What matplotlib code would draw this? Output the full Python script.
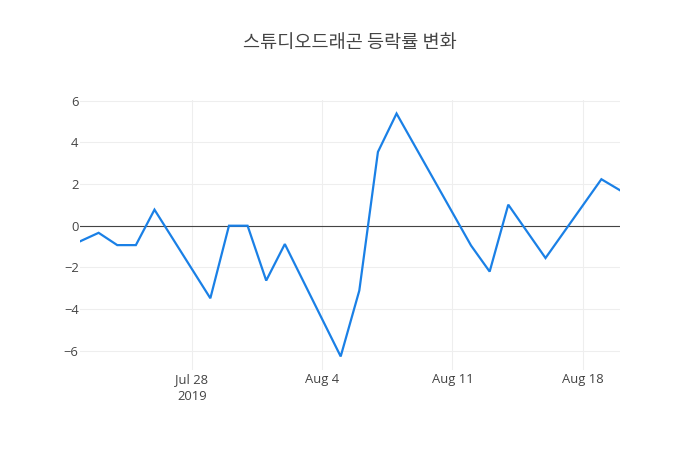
import matplotlib
matplotlib.use("Agg")
import matplotlib.pyplot as plt
import matplotlib.dates as mdates
import pandas as pd

dates = ["2019-07-22", "2019-07-23", "2019-07-24", "2019-07-25", "2019-07-26",
         "2019-07-29", "2019-07-30", "2019-07-31", "2019-08-01", "2019-08-02",
         "2019-08-05", "2019-08-06", "2019-08-07", "2019-08-08",
         "2019-08-12", "2019-08-13", "2019-08-14", "2019-08-16",
         "2019-08-19", "2019-08-20"]
values = [-0.75, -0.34, -0.93, -0.93, 0.77,
          -3.48, 0.0, 0.0, -2.63, -0.88,
          -6.27, -3.11, 3.54, 5.38,
          -0.95, -2.2, 1.01, -1.55,
          2.23, 1.70]
title = "스튜디오드래곤 등락률 변화"
xtick_dates = ["2019-07-28", "2019-08-04", "2019-08-11", "2019-08-18"]
xtick_labels = ["Jul 28\n2019", "Aug 4", "Aug 11", "Aug 18"]
ytick_vals = [-6, -4, -2, 0, 2, 4, 6]
ytick_labels = ["\u22126", "\u22124", "\u22122", "0", "2", "4", "6"]

plt.rcParams['font.family'] = ['Open Sans', 'Noto Sans CJK KR', 'DejaVu Sans']

x = pd.to_datetime(dates)
fig = plt.figure(figsize=(7, 4.5), dpi=100)
ax = fig.add_axes([80/700, 80/450, 540/700, 270/450])

ax.plot(x, values, color='#1a80e6', linewidth=1.6, solid_joinstyle='miter', zorder=3)
ax.axhline(0, color='#444444', linewidth=0.8, zorder=2)

ax.set_xlim(x[0], x[-1])
ax.set_ylim(-6.92, 6.03)

ax.set_xticks(pd.to_datetime(xtick_dates))
ax.set_xticklabels(xtick_labels)
ax.set_yticks(ytick_vals)
ax.set_yticklabels(ytick_labels)

ax.grid(True, color='#eeeeee', linewidth=0.75, zorder=0)
ax.set_axisbelow(True)
for s in ax.spines.values():
    s.set_visible(False)
ax.tick_params(axis='both', length=0, labelsize=9.4, labelcolor='#444444')
ax.tick_params(axis='x', pad=2)
ax.tick_params(axis='y', pad=1)
for lbl in ax.get_xticklabels():
    lbl.set_linespacing(1.4)

fig.text(350/700, 1 - 43/450, title, ha='center', va='center',
         fontsize=13.4, color='#444444', family=['Noto Sans CJK KR', 'DejaVu Sans'])

fig.savefig("out.png", dpi=100, facecolor='white')
